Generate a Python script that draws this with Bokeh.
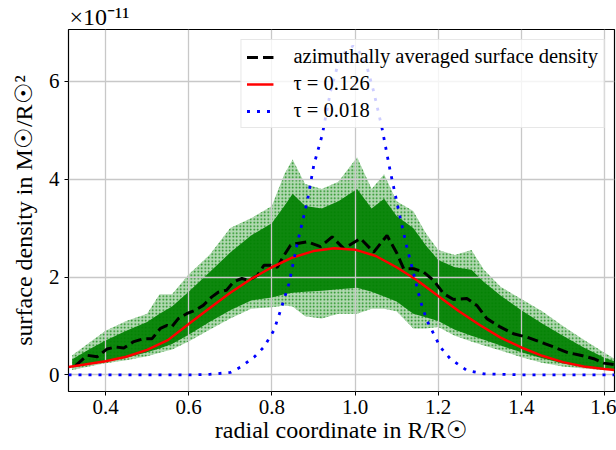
from bokeh.plotting import figure
from bokeh.models import Range1d, FixedTicker, PrintfTickFormatter, Legend, LegendItem
from bokeh.embed import file_html
from bokeh.resources import INLINE

# ---- data (surface density in units of 1e-11 M_sun / R_sun^2) ----
avg_x = [0.328, 0.356, 0.38, 0.404, 0.424, 0.444, 0.468, 0.492, 0.512, 0.532, 0.548, 0.559,
         0.575, 0.595, 0.615, 0.635, 0.655, 0.671, 0.691, 0.708, 0.728, 0.744, 0.765, 0.781,
         0.797, 0.813, 0.829, 0.845, 0.857, 0.885, 0.917, 0.945, 0.973, 1.013, 1.045, 1.077,
         1.101, 1.117, 1.141, 1.165, 1.189, 1.213, 1.237, 1.269, 1.293, 1.317, 1.349, 1.381,
         1.414, 1.446, 1.478, 1.510, 1.542, 1.574, 1.598, 1.622]
avg_y = [0.19, 0.40, 0.37, 0.53, 0.57, 0.55, 0.68, 0.74, 0.74, 0.95, 1.01, 0.98,
         1.15, 1.25, 1.32, 1.42, 1.59, 1.69, 1.73, 1.90, 1.97, 1.93, 2.03, 2.24,
         2.24, 2.20, 2.44, 2.65, 2.68, 2.72, 2.62, 2.82, 2.58, 2.79, 2.51, 2.85,
         2.48, 2.17, 2.17, 2.10, 1.93, 1.66, 1.54, 1.56, 1.42, 1.15, 0.98, 0.84,
         0.77, 0.67, 0.57, 0.46, 0.40, 0.33, 0.24, 0.21]

tau1_x = [0.311, 0.35, 0.40, 0.45, 0.50, 0.55, 0.60, 0.65, 0.70, 0.75, 0.80, 0.85, 0.90, 0.95,
          1.00, 1.05, 1.10, 1.15, 1.20, 1.25, 1.30, 1.35, 1.40, 1.45, 1.50, 1.55, 1.60, 1.624]
tau1_y = [0.16, 0.21, 0.28, 0.37, 0.51, 0.71, 1.04, 1.36, 1.68, 1.96, 2.20, 2.40, 2.53, 2.59,
          2.56, 2.43, 2.20, 1.93, 1.61, 1.30, 1.02, 0.76, 0.56, 0.39, 0.26, 0.17, 0.12, 0.10]

tau2_x = [0.311, 0.60, 0.65, 0.70, 0.725, 0.757, 0.781, 0.805, 0.821, 0.841, 0.861, 0.885,
          0.901, 0.921, 0.941, 0.961, 0.981, 0.995, 1.005, 1.025, 1.045, 1.065, 1.085, 1.109,
          1.125, 1.141, 1.157, 1.173, 1.189, 1.205, 1.229, 1.269, 1.31, 1.40, 1.624]
tau2_y = [0.0, 0.0, 0.01, 0.05, 0.16, 0.36, 0.57, 0.91, 1.32, 1.86, 2.68, 3.54,
          4.29, 4.90, 5.79, 6.41, 6.65, 6.72, 6.67, 6.41, 5.79, 5.04, 4.15, 3.20,
          2.60, 2.07, 1.52, 1.11, 0.84, 0.57, 0.33, 0.09, 0.02, 0.0, 0.0]

# envelope of the particle cloud
cloud_x = [0.32, 0.36, 0.40, 0.45, 0.50, 0.53, 0.56, 0.60, 0.65, 0.70, 0.75, 0.80, 0.83, 0.85,
           0.88, 0.92, 0.96, 1.005, 1.04, 1.07, 1.10, 1.14, 1.17, 1.20, 1.24, 1.28, 1.31, 1.35,
           1.40, 1.45, 1.50, 1.55, 1.60, 1.624]
cloud_top = [0.40, 0.65, 0.90, 1.10, 1.25, 1.65, 1.65, 2.05, 2.45, 3.00, 3.20, 3.45, 4.10, 4.40,
             3.90, 3.80, 3.95, 4.45, 3.80, 4.10, 3.55, 3.35, 2.90, 2.55, 2.45, 2.55, 2.15, 1.80,
             1.55, 1.30, 1.00, 0.72, 0.45, 0.33]
cloud_bottom = [0.10, 0.17, 0.24, 0.30, 0.38, 0.45, 0.52, 0.68, 0.92, 1.15, 1.35, 1.38, 1.42, 1.40,
                1.20, 1.15, 1.25, 1.25, 1.35, 1.35, 1.30, 0.95, 0.95, 0.98, 0.80, 0.68, 0.60, 0.50,
                0.36, 0.25, 0.17, 0.13, 0.10, 0.10]
core_top = [0.32, 0.52, 0.70, 0.90, 1.08, 1.25, 1.40, 1.70, 2.10, 2.50, 2.85, 3.10, 3.45, 3.70,
            3.45, 3.40, 3.55, 3.80, 3.40, 3.60, 3.25, 3.00, 2.65, 2.35, 2.20, 2.15, 1.90, 1.62,
            1.32, 1.05, 0.80, 0.56, 0.35, 0.28]
core_bottom = [0.15, 0.21, 0.28, 0.35, 0.46, 0.54, 0.63, 0.82, 1.08, 1.32, 1.52, 1.58, 1.65, 1.68,
               1.70, 1.72, 1.75, 1.78, 1.70, 1.60, 1.50, 1.25, 1.18, 1.10, 0.92, 0.80, 0.72, 0.60,
               0.46, 0.34, 0.23, 0.16, 0.12, 0.11]

x_ticks = [0.4, 0.6, 0.8, 1.0, 1.2, 1.4, 1.6]
y_ticks = [0, 2, 4, 6]

labels = ["azimuthally averaged surface density", "\u03c4 = 0.126", "\u03c4 = 0.018"]

FONT = "Liberation Serif"

p = figure(width=616, height=450, output_backend="svg", toolbar_location=None,
           x_range=Range1d(0.311, 1.624), y_range=Range1d(-0.34, 7.06),
           min_border_left=68, min_border_right=2, min_border_top=29, min_border_bottom=59,
           background_fill_color="white", border_fill_color="white")

# offset text of the y axis
p.title.text = "\u00d710\u207b\u00b9\u00b9"
p.title.align = "left"
p.title.text_font = FONT
p.title.text_font_size = "24px"
p.title.text_font_style = "normal"
p.title.text_color = "black"
p.title.standoff = 0
p.title.offset = 1

p.outline_line_color = "black"
p.outline_line_width = 1.2

for ax in (p.xaxis[0], p.yaxis[0]):
    ax.axis_line_color = None
    ax.major_tick_in = 0
    ax.major_tick_out = 4
    ax.major_tick_line_color = "black"
    ax.minor_tick_line_color = None
    ax.major_label_text_font = FONT
    ax.major_label_text_font_size = "21px"
    ax.major_label_text_color = "black"
    ax.axis_label_text_font = FONT
    ax.axis_label_text_font_size = "24px"
    ax.axis_label_text_font_style = "normal"
    ax.axis_label_text_color = "black"

p.xaxis.ticker = FixedTicker(ticks=x_ticks)
p.yaxis.ticker = FixedTicker(ticks=y_ticks)
p.xaxis.formatter = PrintfTickFormatter(format="%.1f")
p.yaxis.formatter = PrintfTickFormatter(format="%d")
p.xaxis.axis_label = "radial coordinate in R/R\u2609"
p.yaxis.axis_label = "surface density in M\u2609/R\u2609\u00b2"
p.xaxis.major_label_standoff = 4
p.xaxis.axis_label_standoff = 0
p.yaxis.major_label_standoff = 5
p.yaxis.axis_label_standoff = 9

p.xgrid.grid_line_color = "#c8c8c8"
p.ygrid.grid_line_color = "#c8c8c8"
p.xgrid.grid_line_width = 1.3
p.ygrid.grid_line_width = 1.3

outer = p.varea(x=cloud_x, y1=cloud_bottom, y2=cloud_top, fill_color="green", fill_alpha=0.3,
                hatch_pattern="dot", hatch_color="green", hatch_alpha=0.9, hatch_scale=3.5)
outer.level = "image"
core = p.varea(x=cloud_x, y1=core_bottom, y2=core_top, fill_color="green", fill_alpha=0.92)
core.level = "image"

r_avg = p.line(avg_x, avg_y, line_color="black", line_width=3, line_dash="11 5")
r_t1 = p.line(tau1_x, tau1_y, line_color="red", line_width=2.5)
r_t2 = p.line(tau2_x, tau2_y, line_color="blue", line_width=2.8, line_dash="3 7")

legend = Legend(items=[LegendItem(label=labels[0], renderers=[r_avg]),
                       LegendItem(label=labels[1], renderers=[r_t1]),
                       LegendItem(label=labels[2], renderers=[r_t2])],
                location="top_right")
legend.label_text_font = FONT
legend.label_text_font_size = "20.5px"
legend.label_text_color = "black"
legend.glyph_width = 27
legend.glyph_height = 20
legend.label_height = 20
legend.label_standoff = 20
legend.spacing = 4
legend.padding = 5
legend.margin = 10
legend.border_line_color = "#d0d0d0"
legend.border_line_width = 1
legend.background_fill_color = "white"
legend.background_fill_alpha = 0.8
p.add_layout(legend)

open("out.html", "w").write(file_html(p, INLINE))
